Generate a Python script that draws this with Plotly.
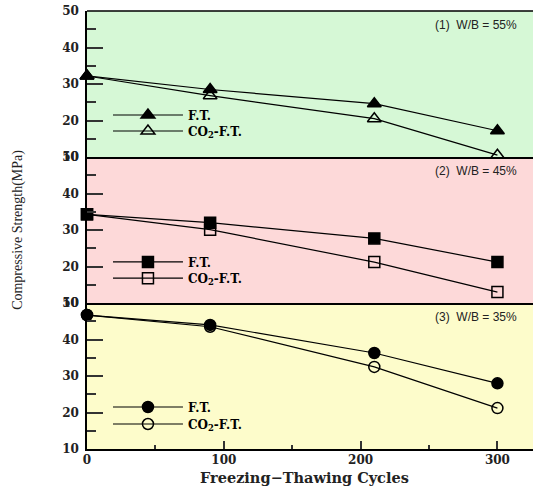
import plotly.graph_objects as go
from plotly.subplots import make_subplots

cycles = [0, 90, 210, 300]
ft_55 = [32.2, 28.5, 24.6, 17.2]
co2_55 = [32.2, 26.8, 20.5, 10.5]
ft_45 = [34.3, 32.0, 27.7, 21.2]
co2_45 = [34.3, 30.1, 21.2, 13.0]
ft_35 = [46.7, 44.0, 36.3, 28.0]
co2_35 = [46.7, 43.5, 32.5, 21.2]

panel_labels = ["(1)  W/B = 55%", "(2)  W/B = 45%", "(3)  W/B = 35%"]
series_names = ["F.T.", "CO<sub>2</sub>-F.T."]
y_ticks = [10, 20, 30, 40, 50]
x_ticks = [0, 100, 200, 300]

panels = [
    (ft_55, co2_55, ("triangle-up", "triangle-up-open"), "#d6f8d6"),
    (ft_45, co2_45, ("square", "square-open"), "#fdd9d9"),
    (ft_35, co2_35, ("circle", "circle-open"), "#fdfccb"),
]

fig = make_subplots(rows=3, cols=1, shared_xaxes=True, vertical_spacing=0)

# legend item centres (paper fraction of plot height)
legend_pos = [(0.7626, 0.726), (0.427, 0.390), (0.0959, 0.0571)]
serif = "Liberation Serif"
num_font = "DejaVu Serif"

lg_index = 0
for i, (ft, co2, syms, bg) in enumerate(panels):
    row = i + 1
    for j, (vals, sym, name) in enumerate([(ft, syms[0], series_names[0]),
                                           (co2, syms[1], series_names[1])]):
        lg_index += 1
        lg = "legend" if lg_index == 1 else f"legend{lg_index}"
        fig.add_trace(go.Scatter(
            x=cycles, y=vals, mode="lines+markers", name=name,
            line=dict(color="black", width=1.2),
            marker=dict(symbol=sym, size=12 if "triangle" in sym else 11,
                        color="black", line=dict(color="black", width=1.5)),
            cliponaxis=False, legend=lg,
        ), row=row, col=1)
        fig.update_layout(**{lg: dict(
            x=0.047, y=legend_pos[i][j], xanchor="left", yanchor="middle",
            bgcolor="rgba(0,0,0,0)", itemwidth=70,
            font=dict(family=num_font, size=12, color="black", weight="bold"))})
    axis_suffix = "" if row == 1 else str(row)
    fig.add_shape(type="rect", xref=f"x{axis_suffix} domain", yref=f"y{axis_suffix} domain",
                  x0=0, x1=1, y0=0, y1=1, fillcolor=bg, line_width=0, layer="below")
    fig.add_annotation(text=panel_labels[i], xref=f"x{axis_suffix} domain",
                       yref=f"y{axis_suffix} domain", x=0.968, y=0.905,
                       xanchor="right", yanchor="middle", showarrow=False,
                       font=dict(family="Liberation Sans", size=12, color="#222"))
    fig.update_yaxes(range=[10, 50], tickvals=y_ticks, ticks="inside", ticklen=16,
                     tickwidth=2, tickcolor="#333", ticklabelstandoff=4,
                     minor=dict(ticks="inside", ticklen=9, tickwidth=2, tickcolor="#333",
                                dtick=5, tick0=5),
                     showgrid=False, zeroline=False, showline=True, linecolor="black",
                     linewidth=1.5,
                     tickfont=dict(family=num_font, size=12, color="#222", weight="bold"),
                     row=row, col=1)

fig.update_xaxes(range=[0, 326], tickvals=x_ticks, showgrid=False, zeroline=False,
                 showline=True, linecolor="black", linewidth=1.5,
                 ticks="inside", ticklen=8, tickwidth=1.5, tickcolor="#333",
                 ticklabelstandoff=-1,
                 minor=dict(ticks="inside", ticklen=4, tickwidth=1.5, tickcolor="#333",
                            dtick=50, tick0=50),
                 tickfont=dict(family=num_font, size=12, color="#222", weight="bold"))
fig.update_xaxes(ticks="", minor=dict(ticks=""), row=1, col=1)
fig.update_xaxes(ticks="", minor=dict(ticks=""), row=2, col=1)

# top border
fig.add_shape(type="line", xref="paper", yref="paper", x0=0, x1=1, y0=1, y1=1,
              line=dict(color="black", width=1.5))

fig.add_annotation(text="Compressive Strength(MPa)", xref="paper", yref="paper",
                   x=-0.155, y=0.5, textangle=-90, showarrow=False,
                   xanchor="center", yanchor="middle",
                   font=dict(family=serif, size=14, color="#222"))
fig.add_annotation(text="Freezing\u2212Thawing Cycles", xref="paper", yref="paper",
                   x=0.487, y=-0.064, showarrow=False, xanchor="center", yanchor="middle",
                   font=dict(family=num_font, size=14.5, color="#222", weight="bold"))

fig.update_layout(width=533, height=486, margin=dict(l=87, r=0, t=11, b=37),
                  paper_bgcolor="white", plot_bgcolor="white", showlegend=True)

fig.write_html("out.html", config={"displayModeBar": False},
               post_script="document.body.style.margin='0px';")
